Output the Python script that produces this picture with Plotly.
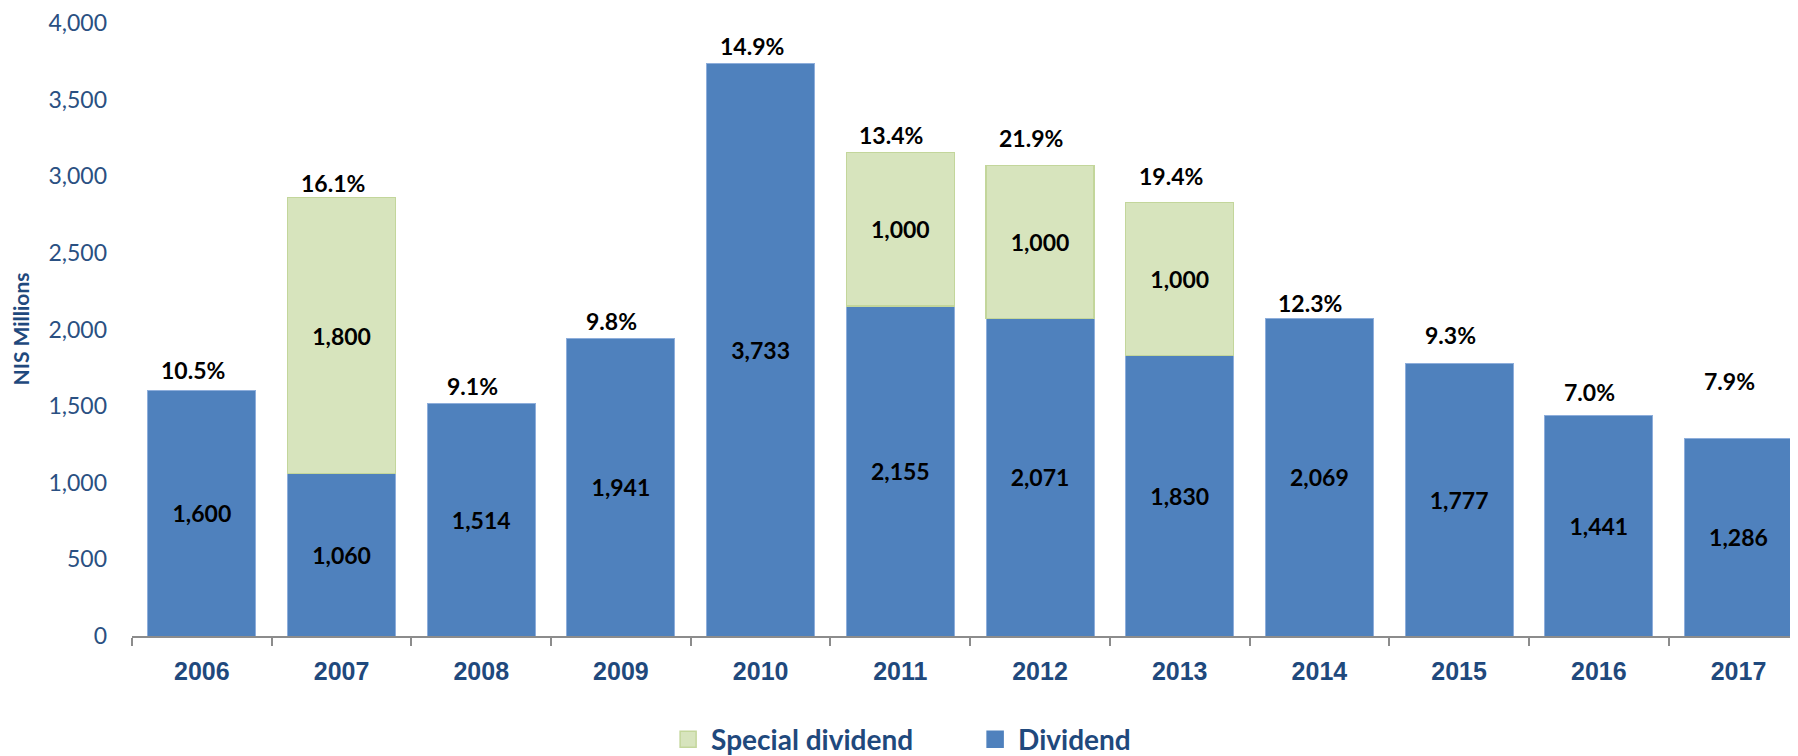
import plotly.graph_objects as go

# ── data ──────────────────────────────────────
years = ["2006", "2007", "2008", "2009", "2010", "2011",
         "2012", "2013", "2014", "2015", "2016", "2017"]
dividend = [1600, 1060, 1514, 1941, 3733, 2155, 2071, 1830, 2069, 1777, 1441, 1286]
special = [0, 1800, 0, 0, 0, 1000, 1000, 1000, 0, 0, 0, 0]
payout_pct = ["10.5%", "16.1%", "9.1%", "9.8%", "14.9%", "13.4%",
              "21.9%", "19.4%", "12.3%", "9.3%", "7.0%", "7.9%"]

# ── styles ────────────────────────────────────
DIV_COLOR = "#4F81BD"
DIV_EDGE = "#8EAEDB"
SPEC_COLOR = "#D7E4BD"
SPEC_EDGE = "#C3D69B"
NAVY = "#1F497D"
AXIS_GREY = "#8C8C8C"
LABEL_FONT = dict(family="Lato", size=23, color="#000000", weight="bold")
# pixel lift of each percentage label above its bar top
PCT_LIFT = [21, 15, 18, 18, 18, 18, 27, 26, 16, 29, 23, 58]

fig = go.Figure()

fig.add_trace(go.Bar(
    x=years, y=dividend, name="Dividend", showlegend=False,
    marker=dict(color=DIV_COLOR, line=dict(color=DIV_EDGE, width=1)),
    text=[f"{v:,}" for v in dividend],
    textposition="inside", insidetextanchor="middle", textangle=0,
    textfont=LABEL_FONT, width=0.773,
))
fig.add_trace(go.Bar(
    x=years, y=[v if v else None for v in special], name="Special dividend",
    showlegend=False,
    marker=dict(color=SPEC_COLOR, line=dict(color=SPEC_EDGE, width=1.5)),
    text=[f"{v:,}" if v else "" for v in special],
    textposition="inside", insidetextanchor="middle", textangle=0,
    textfont=LABEL_FONT, width=0.773,
))

# legend entries (square swatches)
for name, fill, edge in [("Special dividend", SPEC_COLOR, SPEC_EDGE),
                         ("Dividend", DIV_COLOR, DIV_COLOR)]:
    fig.add_trace(go.Scatter(
        x=[None], y=[None], mode="markers", name=name,
        marker=dict(symbol="square", size=17, color=fill,
                    line=dict(color=edge, width=1.5)),
    ))

# percentage labels above stacks
for i, (d, s, pct, lift) in enumerate(zip(dividend, special, payout_pct, PCT_LIFT)):
    fig.add_annotation(
        x=i, y=d + s, text=f"<b>{pct}</b>", showarrow=False,
        yanchor="middle", yshift=lift, xshift=-9,
        font=dict(family="Lato", size=23, color="#000000"),
    )

# y axis title
fig.add_annotation(
    text="<b>NIS Millions</b>", xref="paper", yref="paper",
    x=0, y=0.5, xanchor="center", yanchor="middle", xshift=-112,
    textangle=-90, showarrow=False,
    font=dict(family="Lato", size=21, color=NAVY),
)

# page body adds an 8px offset, so the figure is 8px smaller
fig.update_layout(
    width=1790, height=748,
    paper_bgcolor="#FFFFFF", plot_bgcolor="#FFFFFF",
    barmode="stack", bargap=0.227,
    margin=dict(l=124, r=0, t=15, b=120, autoexpand=False),
    showlegend=True,
    legend=dict(
        orientation="h", traceorder="normal",
        x=0.320, xanchor="left", y=-0.169, yanchor="middle",
        font=dict(family="Lato", size=28, color=NAVY, weight="bold"),
        entrywidth=256, itemwidth=36, bgcolor="rgba(0,0,0,0)",
    ),
)
fig.update_xaxes(
    type="category", range=[-0.5, 11.426], automargin=False,
    showline=True, linecolor=AXIS_GREY, linewidth=2,
    ticks="outside", tickson="boundaries", ticklen=8, tickwidth=2, tickcolor=AXIS_GREY,
    ticklabelstandoff=12,
    tickfont=dict(family="Arial, Liberation Sans", size=25, color=NAVY, weight="bold"),
    showgrid=False, zeroline=False,
)
fig.update_yaxes(
    range=[0, 4000], tickvals=[0, 500, 1000, 1500, 2000, 2500, 3000, 3500, 4000],
    tickformat=",", showgrid=False, zeroline=False, showline=False,
    ticks="", ticklabelstandoff=24, automargin=False, ticklabeloverflow="allow",
    tickfont=dict(family="Lato", size=23, color="#2A5082"),
)

fig.write_html("out.html")
